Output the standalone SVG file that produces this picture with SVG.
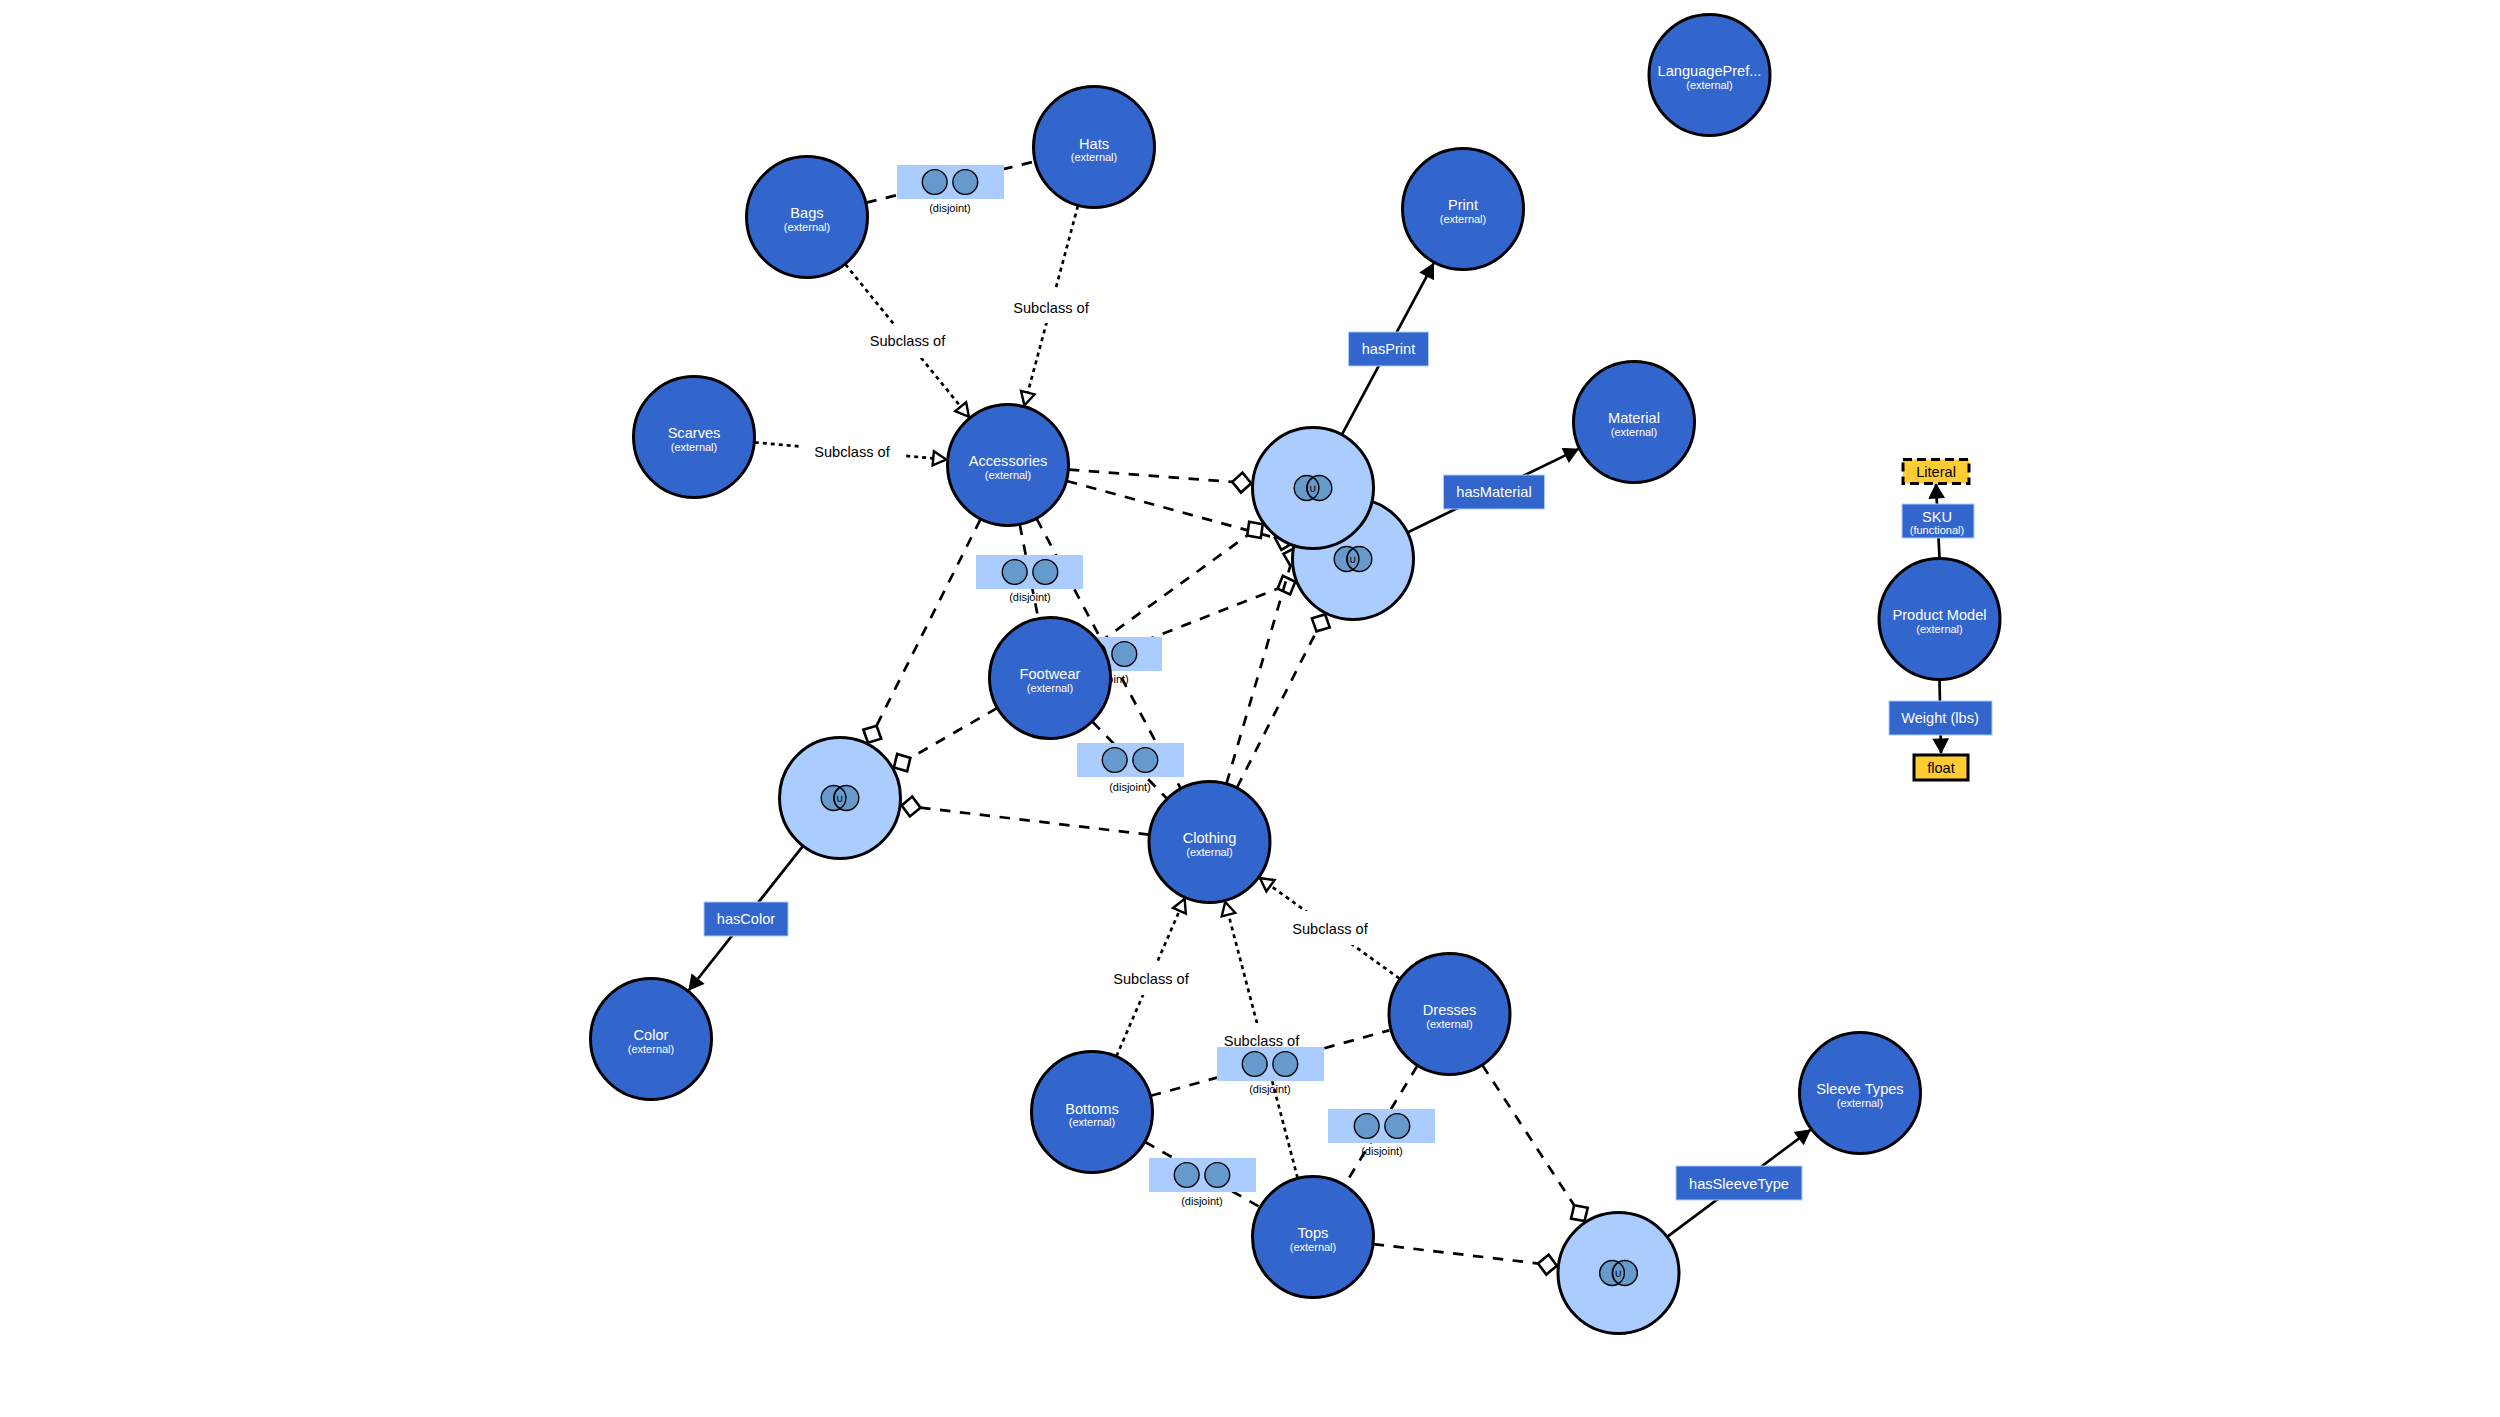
<svg xmlns="http://www.w3.org/2000/svg" width="2500" height="1417" viewBox="0 0 2500 1417">
<style>
text{font-family:"Liberation Sans",Arial,sans-serif;text-anchor:middle}
.m{font-size:14.6px;fill:#fff}
.e{font-size:11px;fill:#fff}
.s{font-size:14.6px;fill:#000}
.j{font-size:11px;fill:#000}
.d{font-size:14.6px;fill:#000}
.n{fill:#3366cc;stroke:#000;stroke-width:3}
.l{fill:#aaccff;stroke:#000;stroke-width:3}
.b{fill:#aaccff}
.p{fill:#3366cc;stroke:#aaccff;stroke-width:1}
.v{fill:#6699cc;stroke:#000;stroke-width:1.4}
.vl{fill:none;stroke:#000;stroke-width:1.4}
.u{font-size:11px;fill:#000;font-family:"DejaVu Sans",sans-serif}
.dj line,.dm line{fill:none;stroke:#000;stroke-width:2.7;stroke-dasharray:10.5 9.5}
.sc line{fill:none;stroke:#000;stroke-width:2.7;stroke-dasharray:4 4}
.rg line{fill:none;stroke:#000;stroke-width:2.7}
.dm line{marker-end:url(#dia)}
.sc line{marker-end:url(#tri)}
.rg line{marker-end:url(#arr)}
.wb{fill:#fff}
</style>
<defs>
<marker id="dia" markerUnits="userSpaceOnUse" markerWidth="24" markerHeight="26" refX="21" refY="12" orient="auto"><path d="M2,12 L11.5,2 L21,12 L11.5,22 Z" fill="#fff" stroke="#000" stroke-width="2.6"/></marker>
<marker id="tri" markerUnits="userSpaceOnUse" markerWidth="18" markerHeight="20" refX="15" refY="10" orient="auto"><path d="M2,3 L15,10 L2,17 Z" fill="#fff" stroke="#000" stroke-width="2.4"/></marker>
<marker id="arr" markerUnits="userSpaceOnUse" markerWidth="18" markerHeight="20" refX="15" refY="10" orient="auto"><path d="M1,2.5 L15,10 L1,17.5 Z" fill="#000" stroke="#000" stroke-width="1"/></marker>
<g id="venn"><circle class="v" cx="-6.3" cy="0" r="12.5"/><circle class="v" cx="6.3" cy="0" r="12.5"/><path class="vl" d="M0,-10.6 A12.5,12.5 0 0 1 0,10.6 A12.5,12.5 0 0 1 0,-10.6 Z"/><text class="u" x="0" y="4">∪</text></g>
<g id="dis"><circle class="v" cx="-15.3" cy="0" r="12.4"/><circle class="v" cx="15.3" cy="0" r="12.4"/></g>
</defs>

<g id="disjoint-labels">
<text class="j" x="950" y="212">(disjoint)</text>
<text class="j" x="1030" y="601">(disjoint)</text>
<text class="j" x="1108" y="683">(disjoint)</text>
<text class="j" x="1130" y="791">(disjoint)</text>
<text class="j" x="1270" y="1093">(disjoint)</text>
<text class="j" x="1382" y="1155">(disjoint)</text>
<text class="j" x="1202" y="1205">(disjoint)</text>
</g>

<g id="connectors">
<g class="dj">
<line x1="866.3" y1="202.6" x2="1034.7" y2="161.4"/>
<line x1="1019.8" y1="524.8" x2="1038" y2="617.2"/>
<line x1="1036.7" y1="518.8" x2="1180.3" y2="787.8"/>
<line x1="1092.5" y1="721.8" x2="1166.3" y2="798"/>
<line x1="1150.8" y1="1095.8" x2="1389.2" y2="1030.4"/>
<line x1="1417.2" y1="1066.1" x2="1345.3" y2="1184"/>
<line x1="1145.1" y1="1142" x2="1259" y2="1206.5"/>
</g>
<g class="dm">
<line x1="1068.8" y1="469.6" x2="1251.2" y2="483.3"/>
<line x1="1066.9" y1="481" x2="1293.2" y2="542.7"/>
<line x1="1099.5" y1="642.3" x2="1262.7" y2="524.3"/>
<line x1="1106.8" y1="655.7" x2="1295.3" y2="581.7"/>
<line x1="1226.5" y1="783.4" x2="1295.7" y2="547.5"/>
<line x1="1237" y1="787.5" x2="1325.1" y2="614.4"/>
<line x1="980.4" y1="519.4" x2="868" y2="742.7"/>
<line x1="997" y1="708.1" x2="893.9" y2="767.4"/>
<line x1="1149" y1="834.7" x2="901.6" y2="805.4"/>
<line x1="1482.3" y1="1065.1" x2="1584.6" y2="1221.1"/>
<line x1="1373.6" y1="1244.1" x2="1556.9" y2="1265.7"/>
</g>
<g class="sc">
<line x1="845.4" y1="264.4" x2="968.9" y2="416.8"/>
<line x1="1077.9" y1="205.9" x2="1024.4" y2="405.2"/>
<line x1="754.8" y1="442.4" x2="946.2" y2="459.5"/>
<line x1="1116.5" y1="1056.1" x2="1184.6" y2="898.8"/>
<line x1="1297.6" y1="1178" x2="1225.2" y2="902"/>
<line x1="1399.4" y1="978.5" x2="1259.9" y2="878.1"/>
</g>
<g class="rg">
<line x1="1342" y1="434.3" x2="1433.5" y2="263.6"/>
<line x1="1408" y1="532.3" x2="1578.2" y2="449.1"/>
<line x1="802.7" y1="846.3" x2="689" y2="990"/>
<line x1="1667.5" y1="1236.6" x2="1810.3" y2="1130"/>
<line x1="1939.5" y1="558" x2="1936" y2="484"/>
<line x1="1939.5" y1="680" x2="1941" y2="753"/>
</g>
</g>

<g id="subclass-labels">
<g id="sc1"><rect class="wb" x="855" y="324" width="105" height="34"/><text class="s" x="907.5" y="346">Subclass of</text></g>
<g id="sc2"><rect class="wb" x="998.5" y="289" width="105" height="34"/><text class="s" x="1051" y="313">Subclass of</text></g>
<g id="sc3"><rect class="wb" x="799" y="434" width="105" height="34"/><text class="s" x="852" y="457">Subclass of</text></g>
<g id="sc4"><rect class="wb" x="1098.5" y="961" width="105" height="34"/><text class="s" x="1151" y="984">Subclass of</text></g>
<g id="sc5"><rect class="wb" x="1209" y="1023" width="105" height="34"/><text class="s" x="1261.5" y="1046">Subclass of</text></g>
<g id="sc6"><rect class="wb" x="1277" y="911" width="105" height="34"/><text class="s" x="1330" y="934">Subclass of</text></g>
</g>

<g id="disjoint-bags-hats"><rect class="b" x="897" y="165" width="107" height="34"/><use href="#dis" x="950" y="182"/></g>
<g id="disjoint-acc-foot"><rect class="b" x="976" y="555" width="107" height="34"/><use href="#dis" x="1030" y="572"/></g>
<g id="disjoint-acc-cloth"><rect class="b" x="1055" y="637" width="107" height="34"/><use href="#dis" x="1109" y="654"/></g>
<g id="disjoint-foot-cloth"><rect class="b" x="1077" y="743" width="107" height="34"/><use href="#dis" x="1130" y="760"/></g>
<g id="disjoint-bot-dress"><rect class="b" x="1217" y="1047" width="107" height="34"/><use href="#dis" x="1270" y="1064"/></g>
<g id="disjoint-dress-tops"><rect class="b" x="1328" y="1109" width="107" height="34"/><use href="#dis" x="1382" y="1126"/></g>
<g id="disjoint-bot-tops"><rect class="b" x="1149" y="1158" width="107" height="34"/><use href="#dis" x="1202" y="1175"/></g>

<g id="union-2"><circle class="l" cx="1353" cy="559" r="60.5"/><use href="#venn" x="1353" y="559"/></g>
<g id="union-1"><circle class="l" cx="1313" cy="488" r="60.5"/><use href="#venn" x="1313" y="488"/></g>
<g id="union-3"><circle class="l" cx="840" cy="798" r="60.5"/><use href="#venn" x="840" y="798"/></g>
<g id="union-4"><circle class="l" cx="1618.5" cy="1273" r="60.5"/><use href="#venn" x="1618.5" y="1273"/></g>

<g id="hats"><circle class="n" cx="1094" cy="147" r="60.5"/><text class="m" x="1094" y="148.5">Hats</text><text class="e" x="1094" y="161">(external)</text></g>
<g id="bags"><circle class="n" cx="807" cy="217" r="60.5"/><text class="m" x="807" y="218">Bags</text><text class="e" x="807" y="230.5">(external)</text></g>
<g id="accessories"><circle class="n" cx="1008" cy="465" r="60.5"/><text class="m" x="1008" y="466">Accessories</text><text class="e" x="1008" y="478.5">(external)</text></g>
<g id="scarves"><circle class="n" cx="694" cy="437" r="60.5"/><text class="m" x="694" y="438">Scarves</text><text class="e" x="694" y="450.5">(external)</text></g>
<g id="languagepref"><circle class="n" cx="1709.5" cy="75" r="60.5"/><text class="m" x="1709.5" y="76">LanguagePref...</text><text class="e" x="1709.5" y="88.5">(external)</text></g>
<g id="print"><circle class="n" cx="1463" cy="209" r="60.5"/><text class="m" x="1463" y="210">Print</text><text class="e" x="1463" y="222.5">(external)</text></g>
<g id="material"><circle class="n" cx="1634" cy="422" r="60.5"/><text class="m" x="1634" y="423">Material</text><text class="e" x="1634" y="435.5">(external)</text></g>
<g id="product-model"><circle class="n" cx="1939.5" cy="619" r="60.5"/><text class="m" x="1939.5" y="620">Product Model</text><text class="e" x="1939.5" y="632.5">(external)</text></g>
<g id="footwear"><circle class="n" cx="1050" cy="678" r="60.5"/><text class="m" x="1050" y="679">Footwear</text><text class="e" x="1050" y="691.5">(external)</text></g>
<g id="clothing"><circle class="n" cx="1209.5" cy="842" r="60.5"/><text class="m" x="1209.5" y="843">Clothing</text><text class="e" x="1209.5" y="855.5">(external)</text></g>
<g id="color"><circle class="n" cx="651" cy="1039" r="60.5"/><text class="m" x="651" y="1040">Color</text><text class="e" x="651" y="1052.5">(external)</text></g>
<g id="dresses"><circle class="n" cx="1449.5" cy="1014" r="60.5"/><text class="m" x="1449.5" y="1015">Dresses</text><text class="e" x="1449.5" y="1027.5">(external)</text></g>
<g id="bottoms"><circle class="n" cx="1092" cy="1112" r="60.5"/><text class="m" x="1092" y="1114">Bottoms</text><text class="e" x="1092" y="1126">(external)</text></g>
<g id="tops"><circle class="n" cx="1313" cy="1237" r="60.5"/><text class="m" x="1313" y="1238">Tops</text><text class="e" x="1313" y="1250.5">(external)</text></g>
<g id="sleeve-types"><circle class="n" cx="1860" cy="1093" r="60.5"/><text class="m" x="1860" y="1094">Sleeve Types</text><text class="e" x="1860" y="1106.5">(external)</text></g>

<g id="hasPrint"><rect class="p" x="1348.5" y="332" width="80" height="34"/><text class="m" x="1388.5" y="354">hasPrint</text></g>
<g id="hasMaterial"><rect class="p" x="1443.5" y="475" width="101" height="34"/><text class="m" x="1494" y="497">hasMaterial</text></g>
<g id="hasColor"><rect class="p" x="704" y="902" width="84" height="34"/><text class="m" x="746" y="924">hasColor</text></g>
<g id="hasSleeveType"><rect class="p" x="1676" y="1166" width="126" height="34"/><text class="m" x="1739" y="1189">hasSleeveType</text></g>
<g id="sku"><rect class="p" x="1902" y="504" width="72" height="34"/><text class="m" x="1937" y="522">SKU</text><text class="e" x="1937" y="534">(functional)</text></g>
<g id="weight"><rect class="p" x="1889" y="701" width="103" height="34"/><text class="m" x="1940" y="723">Weight (lbs)</text></g>
<g id="literal"><rect x="1903" y="459.5" width="66" height="24" fill="#ffcc33" stroke="#000" stroke-width="3" stroke-dasharray="9 5"/><text class="d" x="1936" y="477">Literal</text></g>
<g id="float"><rect x="1914" y="755" width="54" height="25" fill="#ffcc33" stroke="#000" stroke-width="3"/><text class="d" x="1941" y="773">float</text></g>
</svg>
